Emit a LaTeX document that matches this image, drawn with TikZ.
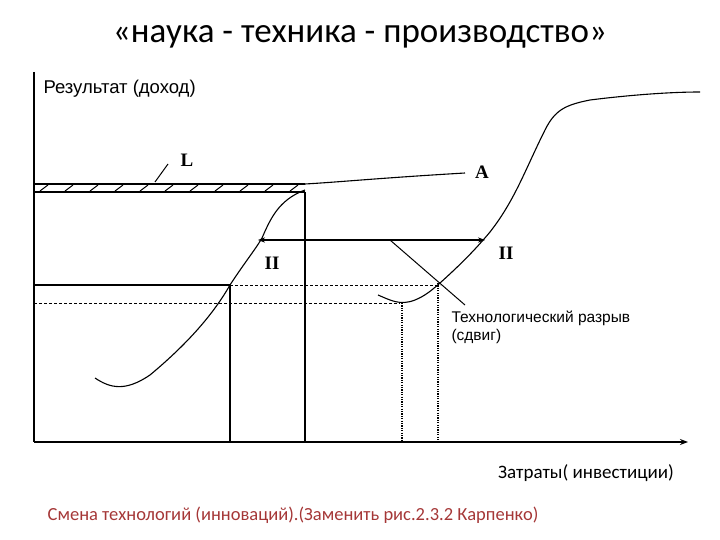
\documentclass[tikz,border=0pt]{standalone}
\usepackage{fontspec}
\setmainfont{Carlito}
\newfontfamily\arialf{Liberation Sans}
\newfontfamily\timesf{Liberation Serif}
\usetikzlibrary{arrows.meta}
\definecolor{redt}{RGB}{165,55,55}
\begin{document}
\begin{tikzpicture}[x=1pt,y=-1pt,
  ln/.style={line width=1.3pt},
  cv/.style={line width=1.1pt},
  dsh/.style={line width=1pt,dash pattern=on 3pt off 2pt},
  dot/.style={line width=1.4pt,dash pattern=on 1.2pt off 1.2pt},
  lbl/.style={font=\timesf\bfseries\fontsize{19}{19}\selectfont}]
\useasboundingbox (0,0) rectangle (720,540);
\node (title) at (360,37) {\fontsize{35}{40}\selectfont «наука - техника - производство»};
\coordinate (o) at (34,442);
\coordinate (ytop) at (34,72);
\coordinate (xend) at (688,442);
\draw[line width=2pt] (ytop) -- (o);
\draw[line width=1.6pt,-{Stealth[length=8pt]}] (o) -- (xend);
\node[anchor=west,font=\arialf\fontsize{18.5}{20}\selectfont] (res) at (40,89) {Результат (доход)};
% hatched band
\draw[ln] (34,184) -- (305,184);
\draw[ln] (34,192) -- (305,192);
\foreach \x in {40,65,...,290} \draw[line width=1pt] (\x,191) -- (\x+8,185);
\draw[cv] (305,184) .. controls (340,182) and (380,178) .. (465,173);
\node[lbl] (L) at (187,160) {L};
\draw[line width=1pt] (168,164) -- (155,182);
\node[lbl] (A) at (482,172) {A};
% curve 1
\draw[cv] (95,378) .. controls (110,388) and (125,392) .. (150,375)
  .. controls (180,350) and (210,320) .. (230,285)
  .. controls (245,262) and (255,250) .. (262,238)
  .. controls (270,220) and (278,200) .. (305,190);
\draw[ln] (305,192) -- (305,442);
\draw[ln] (230,285) -- (230,442);
\draw[ln] (34,285) -- (230,285);
\draw[dsh] (230,285) -- (440,285);
\draw[dsh] (34,303) -- (400,303);
\draw[ln,{Stealth[length=7pt]}-{Stealth[length=7pt]}] (258,240) -- (485,240);
\node[lbl] (II1) at (272,263) {II};
\node[lbl] (II2) at (506,253) {II};
% curve 2
\draw[cv] (378,295) .. controls (390,300) and (400,306) .. (415,300)
  .. controls (425,296) and (432,290) .. (440,283)
  .. controls (460,265) and (475,250) .. (490,232)
  .. controls (515,200) and (525,170) .. (545,130)
  .. controls (555,110) and (565,105) .. (590,100)
  .. controls (630,95) and (670,92) .. (700,92);
\draw[line width=1pt] (390,240) -- (465,305);
\draw[dot] (402,303) -- (402,442);
\draw[dot] (438,283) -- (438,442);
\node[anchor=north west,align=left,font=\arialf\fontsize{15.5}{18}\selectfont] (gap) at (448,307) {Технологический разрыв\\(сдвиг)};
\node[font=\fontsize{19}{21}\selectfont] (cost) at (586,473) {Затраты( инвестиции)};
\node[text=redt,font=\fontsize{18.5}{21}\selectfont] (cap) at (293,515) {Смена технологий (инноваций).(Заменить рис.2.3.2 Карпенко)};
\end{tikzpicture}
\end{document}
